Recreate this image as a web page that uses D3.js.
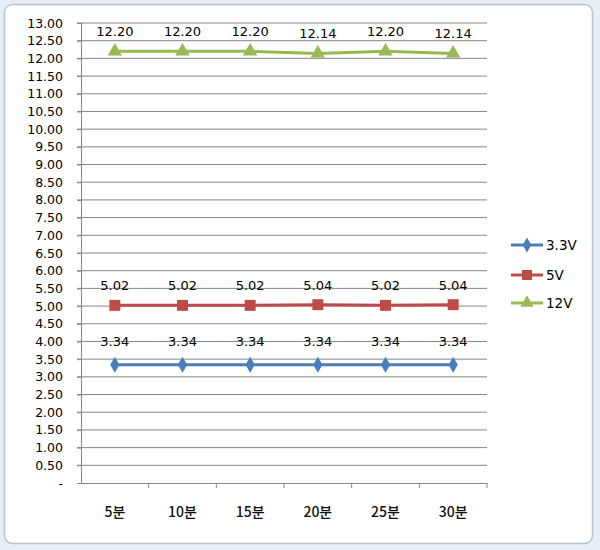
<!DOCTYPE html>
<html><head><meta charset="utf-8">
<script src="https://cdn.jsdelivr.net/npm/d3@7"></script>
<style>body{margin:0;background:#fff;}svg{display:block;}</style>
</head><body>
<svg id="c" width="600" height="550"></svg>
<script>
const categories = ["5분","10분","15분","20분","25분","30분"];
const v33 = [3.34,3.34,3.34,3.34,3.34,3.34];
const v5 = [5.02,5.02,5.02,5.04,5.02,5.04];
const v12 = [12.20,12.20,12.20,12.14,12.20,12.14];
const seriesNames = ["3.3V","5V","12V"];
const yTicks = d3.range(0, 13.01, 0.5);

const svg = d3.select("#c");
const font = "'DejaVu Sans', 'Noto Sans CJK KR', sans-serif";
const kfont = "'Noto Sans CJK KR', sans-serif";
svg.append("rect").attr("x",0).attr("y",0).attr("width",600).attr("height",550).attr("fill","#e8eef5");
svg.append("rect").attr("x",4.5).attr("y",4.5).attr("width",588).attr("height",539).attr("rx",8)
  .attr("fill","#fff").attr("stroke","#b9c3cf").attr("stroke-width",1.5);

const L=81, R=487, T=23, B=483;
const x = d3.scaleBand().domain(categories).range([L,R]);
const y = d3.scaleLinear().domain([0,13]).range([B,T]);
const g = svg.append("g");

g.selectAll("line.grid").data(yTicks.filter(d=>d>0)).join("line")
  .attr("x1",L-4).attr("x2",R).attr("y1",d=>y(d)).attr("y2",d=>y(d))
  .attr("stroke","#868686").attr("stroke-width",1);

const ya = g.append("g").attr("transform",`translate(${L},0)`)
  .call(d3.axisLeft(y).tickValues(yTicks).tickSize(4).tickPadding(14)
    .tickFormat(d=> d===0 ? "-" : d3.format(".2f")(d)));
ya.select(".domain").attr("stroke","#868686");
ya.selectAll(".tick line").attr("stroke","#868686");
ya.selectAll("text").attr("font-family",font).attr("font-size",12.5).attr("fill","#000");

const xa = g.append("g").attr("transform",`translate(0,${B})`)
  .call(d3.axisBottom(x).tickSize(0).tickPadding(24));
xa.select(".domain").attr("stroke","#868686");
xa.selectAll("text").attr("font-family",kfont).attr("font-size",14).attr("font-weight",500).attr("fill","#111");
g.selectAll("line.xt").data(categories).join("line")
  .attr("x1",d=>x(d)+x.bandwidth()).attr("x2",d=>x(d)+x.bandwidth())
  .attr("y1",B).attr("y2",B+5).attr("stroke","#868686");

const cx = d=>x(d)+x.bandwidth()/2;
const series = [
  {name:"3.3V", vals:v33, color:"#4a7ebb", sym:d3.symbolDiamond, size:75, off:19},
  {name:"5V", vals:v5, color:"#be4b48", sym:d3.symbolSquare, size:120, off:15},
  {name:"12V", vals:v12, color:"#98b954", sym:d3.symbolTriangle, size:90, off:15}
];
const line = d3.line().x((d,i)=>cx(categories[i])).y(d=>y(d));
series.forEach(s=>{
  g.append("path").attr("d",line(s.vals)).attr("fill","none").attr("stroke",s.color).attr("stroke-width",3);
  g.selectAll(null).data(s.vals).join("path")
    .attr("transform",(d,i)=>`translate(${cx(categories[i])},${y(d)})`)
    .attr("d",d3.symbol().type(s.sym).size(s.size)).attr("fill",s.color);
  g.selectAll(null).data(s.vals).join("text")
    .attr("x",(d,i)=>cx(categories[i])).attr("y",d=>y(d)-s.off)
    .attr("text-anchor","middle").attr("font-family",font).attr("font-size",13).attr("fill","#000")
    .text(d=>d3.format(".2f")(d));
});

const lg = svg.append("g");
series.forEach((s,i)=>{
  const ly = [245,275,303][i];
  lg.append("line").attr("x1",511).attr("x2",543).attr("y1",ly).attr("y2",ly).attr("stroke",s.color).attr("stroke-width",3);
  lg.append("path").attr("transform",`translate(527,${ly})`).attr("d",d3.symbol().type(s.sym).size(s.size*0.85)).attr("fill",s.color);
  lg.append("text").attr("x",546).attr("y",ly).attr("dy","0.35em").attr("font-family",font).attr("font-size",13.5).attr("fill","#000").text(seriesNames[i]);
});
</script>
</body></html>
